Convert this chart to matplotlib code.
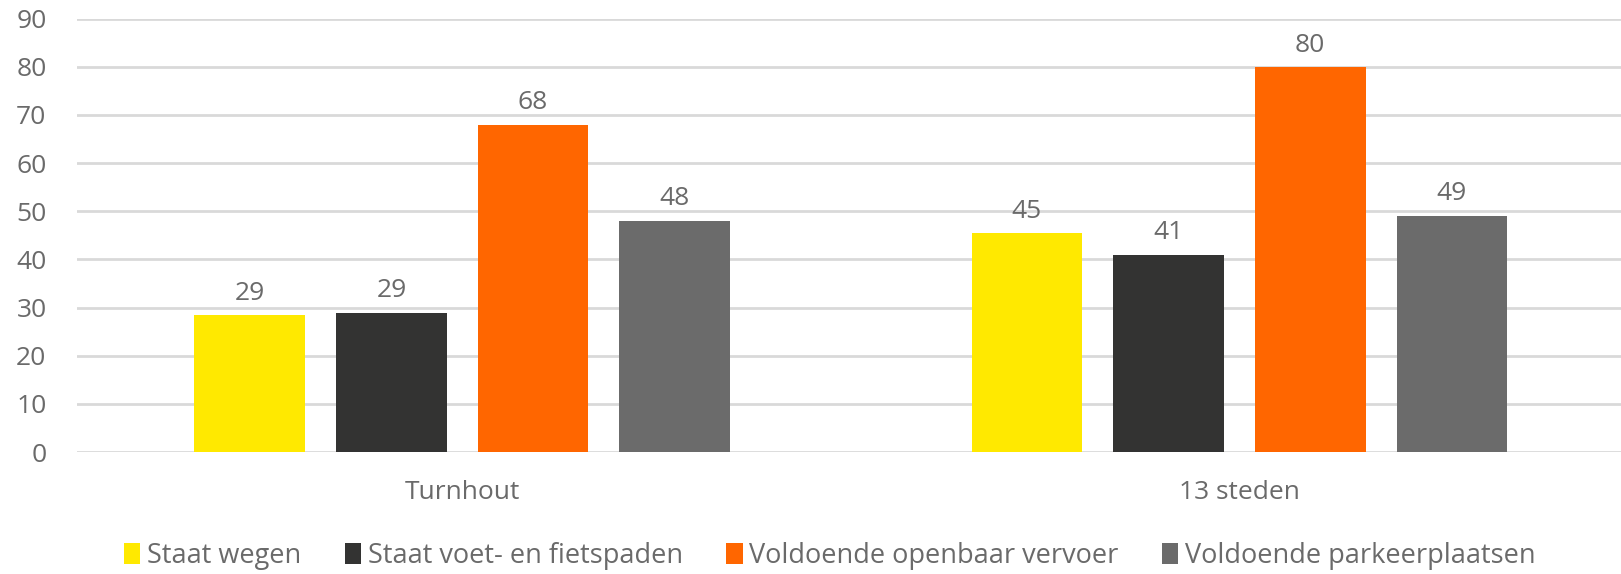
import numpy as np
import matplotlib.pyplot as plt

categories = ['Turnhout', '13 steden']
series = ['Staat wegen', 'Staat voet- en fietspaden',
          'Voldoende openbaar vervoer', 'Voldoende parkeerplaatsen']
values = [
    [28.4, 45.4],   # Staat wegen
    [28.9, 40.9],   # Staat voet- en fietspaden
    [67.9, 79.9],   # Voldoende openbaar vervoer
    [48.0, 49.1],   # Voldoende parkeerplaatsen
]
labels = [
    ['29', '45'],
    ['29', '41'],
    ['68', '80'],
    ['48', '49'],
]
colors = ['#FFE900', '#333332', '#FF6600', '#6B6B6B']

plt.rcParams['font.family'] = ['Open Sans', 'DejaVu Sans']
text_color = '#6A6A6A'

fig = plt.figure(figsize=(16.21, 5.74), dpi=100)
ax = fig.add_axes([0.0475, 0.2125, 0.9525, 0.755])

x = np.arange(len(categories))
step = 0.1823
width = 0.1424
for i, (name, vals, col) in enumerate(zip(series, values, colors)):
    bars = ax.bar(x + (i - 1.5) * step, vals, width, color=col, label=name, zorder=3)
    for b, lab in zip(bars, labels[i]):
        ax.text(b.get_x() + b.get_width() / 2, b.get_height() + 2.0, lab,
                ha='center', va='bottom', fontsize=19, color=text_color)

ax.set_xlim(-0.4957, 1.491)
ax.set_ylim(0, 90)
ax.set_yticks(range(0, 91, 10))
ax.set_xticks(x)
ax.set_xticklabels(categories)
ax.yaxis.grid(True, color='#D9D9D9', linewidth=2, zorder=0)
for s in ax.spines.values():
    s.set_visible(False)
ax.tick_params(axis='both', length=0, labelsize=19, colors=text_color)
ax.tick_params(axis='x', pad=20)
ax.tick_params(axis='y', pad=22)

leg = fig.legend(loc='lower center', bbox_to_anchor=(0.512, -0.035), ncol=4,
                 frameon=False, fontsize=19.5, handlelength=0.6, handleheight=0.8,
                 handletextpad=0.25, columnspacing=1.6)
for t in leg.get_texts():
    t.set_color(text_color)

fig.savefig('out.png', dpi=100)
